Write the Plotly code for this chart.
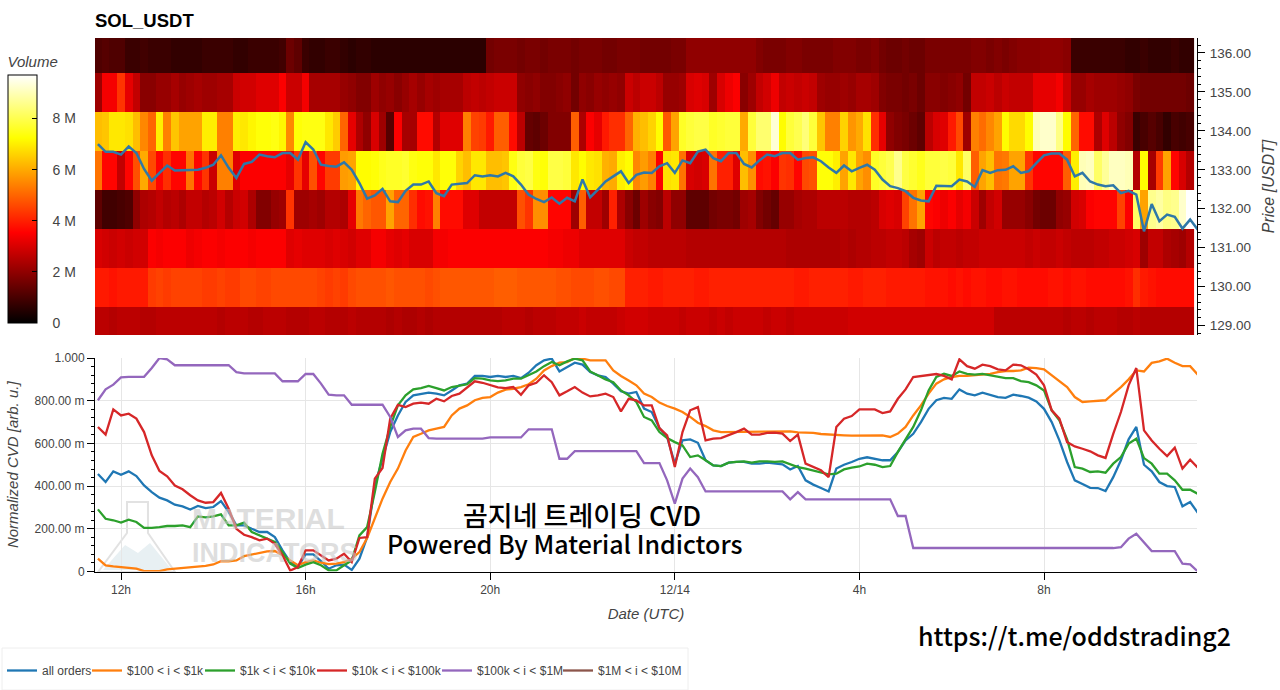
# -*- coding: utf-8 -*-
import pandas as pd
import plotly.graph_objs as go

W = 1280
H = 690

# ten minute samples (12 values per line = 2 hours)
times = pd.date_range("2025-12-13 11:30", periods=144, freq="10min")
price_levels = [128.975, 129.975, 130.975, 131.975, 132.975, 133.975, 134.975, 135.975]

# volume per price level, in millions
vol_129 = [
    2.6,2.6,2.5,2.6,2.6,2.6,2.5,2.5,2.6,2.6,2.6,2.6,
    2.6,2.6,2.6,2.6,2.5,2.6,2.6,2.6,2.5,2.5,2.6,2.6,
    2.6,2.5,2.5,2.5,2.6,2.6,2.5,2.5,2.5,2.6,2.5,2.5,
    2.5,2.5,2.4,2.5,2.4,2.4,2.5,2.4,2.5,2.5,2.5,2.5,
    2.5,2.5,2.5,2.5,2.5,2.6,2.6,2.6,2.5,2.6,2.6,2.6,
    2.7,2.7,2.7,2.8,2.7,2.7,2.7,2.7,2.8,2.9,2.9,2.9,
    2.8,2.8,2.8,2.8,2.7,2.8,2.8,2.8,2.7,2.8,2.7,2.8,
    2.8,2.8,2.8,2.7,2.8,2.8,2.7,2.8,2.8,2.8,2.8,2.8,
    2.8,2.8,2.9,2.9,2.9,2.9,2.9,2.9,2.9,2.9,2.9,2.9,
    2.9,2.9,2.9,2.9,2.9,2.9,2.9,2.9,2.9,2.6,2.6,2.6,
    2.6,2.6,2.6,2.6,2.6,2.6,2.5,2.6,2.6,2.5,2.6,2.6,
    2.6,2.5,2.5,2.6,2.5,2.5,2.5,2.5,2.5,2.5,2.5]
vol_130 = [
    3.9,3.9,3.8,3.9,3.9,3.9,3.9,4.4,4.5,4.4,4.5,4.5,
    4.5,4.5,4.4,4.4,4.5,4.4,4.4,4.6,4.6,4.5,4.5,4.6,
    4.6,4.6,4.6,4.6,4.6,4.5,4.4,4.5,4.4,4.6,4.7,4.7,
    4.7,4.7,4.8,4.7,4.7,4.7,4.7,4.6,4.7,4.8,4.8,4.8,
    4.8,4.8,4.8,4.8,4.9,4.9,4.9,4.8,4.8,4.8,4.8,4.8,
    4.7,4.7,4.6,4.6,4.6,4.7,4.7,4.6,4.6,4.0,4.0,4.0,
    3.9,3.9,4.0,4.0,4.0,4.0,3.9,3.9,4.0,4.0,4.0,4.0,
    4.0,4.0,4.0,4.0,4.0,4.0,4.0,3.9,3.9,4.0,4.0,4.0,
    4.0,4.0,3.9,3.9,4.0,4.0,4.0,3.9,3.9,3.9,3.9,3.9,
    3.8,3.8,3.8,3.7,3.8,3.7,3.8,3.8,3.7,3.7,3.8,3.8,
    3.7,3.7,3.7,3.7,3.8,3.8,3.7,3.8,3.8,3.7,3.7,3.7,
    3.7,3.7,3.8,4.2,3.9,3.8,3.7,3.7,3.7,3.7,3.7]
vol_131 = [
    3.0,2.9,2.8,2.9,2.8,2.9,2.9,3.5,3.4,3.5,3.5,3.5,
    3.3,3.4,3.5,3.5,3.4,3.5,3.5,3.5,3.4,3.5,3.5,3.5,
    3.5,3.1,3.2,3.1,3.1,3.1,3.0,3.1,3.0,2.9,3.1,3.1,
    3.4,3.4,3.2,3.1,3.2,3.0,3.0,3.0,3.4,3.4,3.5,3.5,
    3.5,3.5,3.5,3.5,3.5,3.5,3.5,3.5,3.5,3.5,3.5,3.4,
    3.4,3.3,3.3,3.1,3.1,3.1,3.1,3.1,3.1,2.8,2.7,2.7,
    2.6,2.6,2.6,2.6,2.6,2.5,2.5,2.5,2.5,2.5,2.5,2.5,
    2.5,2.5,2.5,2.5,2.5,2.5,2.4,2.4,2.4,2.4,2.4,2.4,
    2.4,2.5,2.4,2.5,2.5,2.6,2.6,2.7,2.7,2.6,2.3,2.2,
    2.8,2.6,2.7,2.7,2.6,2.7,2.7,2.8,2.8,2.8,2.8,2.8,
    2.8,2.7,2.8,2.7,2.7,2.8,2.7,2.6,2.6,2.6,2.7,2.7,
    2.8,2.8,2.9,3.0,2.2,2.7,2.7,2.4,2.3,2.2,2.5]
vol_132 = [
    1.3,0.9,0.9,1.0,1.1,2.0,2.4,2.5,2.7,2.5,2.6,2.4,
    2.7,2.7,2.5,2.6,2.9,2.5,2.8,2.9,2.4,1.8,1.8,2.1,
    2.2,4.3,2.2,2.2,2.3,2.2,2.5,2.5,2.4,3.2,5.3,5.0,
    4.8,4.8,5.9,5.0,5.0,4.2,3.7,3.8,5.4,3.7,3.7,3.7,
    3.1,3.1,2.7,2.7,2.7,2.7,2.7,4.7,4.3,5.6,5.6,3.6,
    3.6,3.6,2.2,4.9,2.7,2.7,2.2,4.0,2.4,1.9,1.5,2.2,
    1.9,1.8,2.6,2.0,2.0,1.3,1.3,1.3,1.6,1.7,1.7,1.6,
    2.2,2.3,1.8,1.6,1.4,2.1,2.1,2.3,2.4,2.4,2.6,2.6,
    2.6,2.6,2.5,2.5,2.5,2.6,3.0,3.1,3.0,4.5,5.2,5.9,
    3.6,3.5,3.3,3.5,3.2,3.4,2.8,2.2,2.7,2.9,2.1,2.1,
    2.1,1.9,1.6,1.5,1.5,2.0,2.1,2.9,3.0,3.5,3.6,3.6,
    3.6,4.5,3.5,8.2,5.9,8.6,8.8,8.5,8.6,9.2,9.7]
vol_133 = [
    5.2,3.6,3.6,2.7,3.6,4.7,6.0,4.6,3.6,4.2,3.6,3.6,
    5.2,3.6,4.3,2.8,5.4,5.4,3.1,3.5,3.5,3.5,3.5,3.5,
    3.5,3.2,4.3,3.2,4.7,3.6,4.4,4.4,5.8,5.9,7.2,7.2,
    7.3,7.5,7.6,7.6,7.7,7.4,7.3,7.3,6.9,7.3,7.3,6.6,
    6.3,6.9,6.9,6.3,6.3,6.4,7.4,7.8,7.9,7.4,7.3,7.9,
    7.9,7.8,6.9,7.2,6.9,6.8,6.1,6.0,7.0,7.2,5.5,5.8,
    5.4,3.5,6.8,6.9,5.2,3.0,2.9,3.0,5.2,4.0,4.0,3.1,
    6.3,5.6,3.7,3.8,3.5,4.3,4.2,3.6,4.6,4.7,7.3,7.3,
    7.0,5.9,6.9,5.9,5.6,7.6,7.8,8.0,8.6,7.9,7.7,7.5,
    7.8,7.8,7.9,7.8,6.9,8.2,4.9,5.9,6.3,5.2,5.3,5.9,
    5.9,4.3,3.6,3.6,3.6,3.6,4.9,7.0,9.0,9.1,8.2,8.7,
    9.1,9.1,9.0,2.5,7.2,2.3,4.4,5.9,3.6,3.0,2.5]
vol_134 = [
    6.3,6.4,6.9,6.9,6.8,6.3,5.5,5.0,7.0,5.4,6.4,5.9,
    5.9,5.9,7.0,7.0,5.4,5.4,7.0,6.9,7.1,7.3,7.3,7.4,
    7.1,5.5,7.3,7.4,7.4,7.4,6.9,6.5,5.0,3.2,2.4,2.0,
    3.0,2.2,1.2,3.5,2.3,2.3,3.7,3.7,2.5,3.1,3.1,3.1,
    5.4,4.5,4.4,3.9,4.9,4.9,3.7,2.6,1.4,1.3,1.5,1.8,
    1.8,1.8,4.9,2.4,3.5,3.2,3.9,4.2,4.2,5.0,6.1,6.3,
    6.6,7.2,4.8,5.9,7.6,7.8,7.9,7.9,7.6,7.7,7.8,7.8,
    6.0,7.8,8.3,8.3,9.3,7.2,7.8,8.0,8.4,7.8,6.4,5.4,
    5.4,6.6,5.7,6.0,6.8,4.2,3.2,2.0,1.8,1.7,1.5,1.3,
    2.6,3.0,3.1,3.9,4.6,2.2,5.4,5.1,5.5,5.9,7.2,6.7,
    6.7,7.2,9.0,9.2,9.2,8.5,7.2,5.0,3.7,3.7,2.4,3.1,
    2.6,2.0,1.8,0.8,1.0,1.2,1.0,0.7,1.0,0.9,1.0]
vol_135 = [
    2.2,3.4,3.4,4.3,3.2,2.7,1.9,1.9,2.1,2.1,2.3,2.1,
    2.2,2.3,2.2,2.2,2.3,2.3,2.8,2.9,2.9,3.1,3.1,3.1,
    3.5,2.8,2.8,3.4,2.3,2.3,2.3,2.3,2.1,2.0,1.8,1.8,
    2.2,2.0,2.1,1.9,2.1,2.3,2.1,2.3,2.2,2.3,2.3,2.3,
    2.6,2.7,2.6,2.7,2.8,2.8,2.8,2.0,1.9,2.0,1.8,1.8,
    1.9,2.0,1.6,2.0,1.9,2.1,2.0,2.1,2.0,2.8,2.6,2.8,
    2.8,2.6,2.1,2.1,2.2,3.0,3.1,3.0,2.2,3.0,3.3,3.5,
    1.9,2.2,2.7,2.9,3.3,2.7,2.8,2.7,2.8,2.7,2.2,2.1,
    2.1,2.2,2.1,2.3,2.3,2.2,1.8,1.7,1.7,1.6,1.7,1.5,
    1.9,1.9,1.8,1.9,2.0,1.6,2.7,2.7,2.8,2.6,2.8,2.7,
    2.7,2.7,3.2,3.2,3.2,3.4,2.8,2.1,2.1,2.3,2.2,2.2,
    2.2,2.1,2.0,1.7,1.6,1.6,1.6,1.6,1.6,1.6,1.5]
vol_136 = [
    1.1,1.2,1.1,1.1,0.8,0.8,0.9,0.8,0.8,0.8,0.7,0.7,
    0.7,0.7,0.8,0.8,0.8,0.8,0.7,0.7,0.8,0.8,0.8,0.8,
    0.9,1.5,1.3,0.8,0.7,0.7,0.8,0.8,0.7,0.6,0.7,0.7,
    0.6,0.6,0.6,0.6,0.6,0.6,0.6,0.6,0.6,0.6,0.6,0.6,
    0.6,0.6,0.6,1.6,1.7,1.7,1.7,1.6,1.7,1.7,1.6,1.7,
    1.7,1.7,1.6,1.7,1.7,1.7,1.6,1.6,1.7,1.7,1.7,1.6,
    1.6,1.6,1.6,1.7,1.7,2.0,2.0,2.0,2.0,2.0,2.0,2.0,
    2.0,2.0,1.8,1.7,1.7,1.7,1.8,1.8,1.7,1.7,1.7,1.7,
    1.8,1.8,1.8,1.7,1.7,1.8,1.6,1.5,1.5,1.6,1.5,1.5,
    1.7,1.7,1.7,1.7,1.7,1.7,1.8,1.8,1.7,1.8,1.7,1.8,
    1.9,1.9,1.9,2.0,2.0,2.0,1.9,0.8,0.8,0.8,0.8,0.8,
    0.8,0.8,0.7,0.7,0.8,0.7,0.7,0.7,0.8,0.7,0.7]

price = [
    133.66,133.46,133.46,133.39,133.60,133.43,133.02,132.72,132.92,133.11,132.98,132.99,
    133.00,133.00,133.05,133.13,133.37,133.05,132.79,133.15,133.20,133.39,133.35,133.32,
    133.43,133.43,133.26,133.71,133.52,133.13,133.10,133.08,133.19,133.00,132.66,132.26,
    132.34,132.51,132.19,132.17,132.46,132.62,132.62,132.70,132.40,132.32,132.62,132.64,
    132.66,132.86,132.83,132.86,132.83,132.92,132.83,132.62,132.36,132.25,132.17,132.29,
    132.13,132.28,132.19,132.75,132.29,132.49,132.70,132.83,132.96,132.66,132.87,132.93,
    132.92,133.09,133.17,132.92,133.24,133.17,133.47,133.52,133.30,133.22,133.43,133.43,
    133.15,133.06,133.24,133.39,133.35,133.43,133.43,133.26,133.30,133.32,133.22,133.06,
    132.92,133.11,132.96,133.05,133.13,133.00,132.75,132.58,132.53,132.45,132.28,132.21,
    132.19,132.59,132.58,132.58,132.75,132.70,132.56,132.99,132.92,132.99,133.00,133.09,
    132.92,132.96,133.17,133.37,133.42,133.42,133.26,132.83,132.92,132.70,132.62,132.58,
    132.60,132.40,132.46,132.36,131.42,132.12,131.68,131.85,131.79,131.49,131.72,131.46]

cvd_all = [
    .457,.419,.469,.453,.469,.447,.403,.372,.346,.333,.313,.305,
    .290,.307,.297,.302,.330,.279,.216,.216,.200,.185,.185,.161,
    .099,.044,.021,.080,.080,.049,.013,.029,.032,.007,.060,.161,
    .403,.528,.653,.731,.794,.825,.833,.838,.833,.825,.848,.872,
    .880,.916,.916,.911,.916,.911,.916,.906,.931,.966,.989,.997,
    .937,.958,.978,.969,.934,.919,.911,.880,.844,.833,.841,.763,
    .747,.672,.630,.505,.614,.619,.603,.521,.497,.494,.510,.513,
    .513,.505,.505,.510,.505,.502,.478,.494,.427,.407,.391,.375,
    .482,.500,.513,.528,.535,.528,.521,.521,.560,.614,.645,.700,
    .762,.802,.813,.809,.853,.833,.825,.838,.828,.817,.813,.828,
    .822,.814,.797,.762,.700,.614,.513,.427,.410,.392,.391,.377,
    .442,.521,.619,.677,.500,.469,.419,.400,.396,.305,.325,.275]
cvd_100_1k = [
    .060,.029,.024,.021,.018,.013,.002,.002,.002,.010,.013,.018,
    .018,.021,.026,.033,.048,.048,.052,.072,.080,.086,.094,.096,
    .076,.052,.029,.044,.052,.041,.035,.037,.044,.060,.091,.157,
    .247,.341,.419,.482,.567,.630,.645,.661,.669,.677,.731,.763,
    .778,.802,.813,.817,.838,.852,.856,.864,.877,.903,.942,.962,
    .978,.981,1.0,.997,.989,.989,.989,.942,.916,.895,.872,.833,
    .817,.791,.775,.763,.747,.724,.697,.681,.661,.653,.653,.656,
    .653,.656,.653,.653,.653,.653,.656,.652,.652,.649,.644,.641,
    .638,.638,.636,.636,.636,.638,.638,.630,.646,.677,.731,.778,
    .833,.880,.900,.911,.916,.916,.919,.922,.926,.934,.939,.939,
    .942,.955,.953,.947,.919,.891,.864,.817,.794,.797,.798,.802,
    .833,.864,.900,.942,.937,.977,.984,.997,.978,.962,.962,.922]
cvd_1k_10k = [
    .291,.247,.240,.229,.243,.232,.204,.204,.208,.213,.213,.216,
    .208,.258,.254,.258,.268,.216,.216,.229,.185,.169,.154,.138,
    .091,.037,.016,.032,.044,.029,.005,.005,.029,.052,.169,.208,
    .372,.552,.677,.778,.825,.853,.859,.869,.859,.848,.864,.872,
    .877,.906,.903,.895,.892,.895,.903,.903,.919,.937,.962,.981,
    .966,.984,.997,.989,.937,.919,.900,.887,.848,.825,.794,.724,
    .708,.653,.625,.606,.591,.536,.544,.521,.497,.494,.510,.513,
    .516,.510,.516,.516,.513,.516,.503,.489,.482,.474,.463,.455,
    .458,.478,.486,.492,.505,.500,.489,.494,.560,.619,.677,.755,
    .848,.911,.926,.916,.937,.926,.922,.926,.919,.911,.906,.906,
    .892,.887,.872,.848,.755,.708,.619,.489,.482,.466,.469,.463,
    .505,.536,.599,.622,.531,.505,.458,.458,.427,.383,.383,.364]
cvd_10k_100k = [
    .677,.641,.759,.731,.739,.716,.653,.544,.471,.446,.403,.385,
    .357,.333,.322,.325,.368,.294,.200,.172,.161,.146,.154,.130,
    .076,.005,.021,.099,.099,.076,.052,.060,.083,.044,.157,.161,
    .435,.485,.716,.780,.770,.786,.791,.786,.809,.797,.822,.833,
    .864,.891,.884,.872,.862,.859,.864,.828,.872,.884,.919,.887,
    .825,.844,.864,.838,.820,.825,.833,.817,.750,.809,.802,.778,
    .778,.672,.638,.489,.653,.755,.770,.614,.622,.625,.638,.653,
    .669,.641,.641,.649,.650,.646,.611,.641,.505,.489,.474,.442,
    .677,.716,.728,.759,.759,.759,.742,.750,.809,.853,.911,.916,
    .922,.925,.916,.900,.994,.962,.950,.969,.962,.947,.942,.969,
    .966,.947,.922,.872,.755,.716,.606,.586,.575,.563,.544,.532,
    .645,.747,.872,.953,.661,.614,.575,.541,.580,.482,.524,.486]
cvd_100k_1m = [
    .802,.853,.875,.909,.912,.912,.912,.953,1.0,.994,.966,.966,
    .966,.966,.966,.966,.966,.966,.934,.928,.928,.928,.928,.928,
    .891,.891,.891,.925,.925,.880,.828,.825,.825,.781,.781,.781,
    .781,.781,.724,.630,.661,.669,.669,.625,.622,.622,.622,.622,
    .622,.622,.622,.628,.628,.628,.628,.628,.666,.666,.666,.666,
    .528,.528,.564,.564,.564,.564,.564,.564,.564,.564,.564,.508,
    .508,.508,.427,.318,.435,.482,.442,.375,.375,.375,.375,.375,
    .375,.375,.375,.375,.375,.375,.338,.372,.338,.338,.338,.338,
    .338,.338,.338,.338,.338,.338,.338,.338,.260,.260,.110,.110,
    .110,.110,.110,.110,.110,.110,.110,.110,.110,.110,.110,.110,
    .110,.110,.110,.110,.110,.110,.110,.110,.110,.110,.110,.110,
    .110,.114,.154,.177,.138,.096,.095,.095,.095,.037,.033,0]
# nothing drawn for this bucket in the picture, only its legend entry
cvd_1m_10m = [None] * 144

series_names = ["all orders", "$100 < i < $1k", "$1k < i < $10k", "$10k < i < $100k",
                "$100k < i < $1M", "$1M < i < $10M"]
series_values = [cvd_all, cvd_100_1k, cvd_1k_10k, cvd_10k_100k, cvd_100k_1m, cvd_1m_10m]
series_colors = ["#1f77b4", "#ff7f0e", "#2ca02c", "#d62728", "#9467bd", "#8c564b"]

time_ticks = ["2025-12-13 12:00", "2025-12-13 16:00", "2025-12-13 20:00",
              "2025-12-14 00:00", "2025-12-14 04:00", "2025-12-14 08:00"]
time_labels = ["12h", "16h", "20h", "12/14", "4h", "8h"]
cvd_ticks = [0, 0.2, 0.4, 0.6, 0.8, 1.0]
cvd_labels = ["0", "200.00 m", "400.00 m", "600.00 m", "800.00 m", "1.000"]
volume_ticks = [0, 2, 4, 6, 8]
volume_labels = ["0", "2 M", "4 M", "6 M", "8 M"]

x_range = ["2025-12-13 11:26:12", "2025-12-14 11:18:54"]
font_sans = "Liberation Sans, Arial, sans-serif"
font_kr = "Noto Sans CJK KR"
hot_scale = [[0, "#000000"], [0.365, "#ff0000"], [0.746, "#ffff00"], [1, "#ffffff"]]
# left edge of each legend entry, the entries sit closer than one legend allows
legend_left = [2, 87, 200, 312, 437, 558]


def px(x):
    return x / W


def py(y):
    return 1 - y / H


def poly(points):
    return "M " + " L ".join(f"{px(a):.4f},{py(b):.4f}" for a, b in points) + " Z"


def note(text, x, y, size, color="#000000", family=font_kr, weight=500, anchor="center"):
    return dict(text=text, xref="paper", yref="paper", x=px(x), y=py(y),
                xanchor=anchor, yanchor="middle", showarrow=False,
                font=dict(size=size, color=color, family=family, weight=weight))


heat = go.Heatmap(
    x=times[:143], y=price_levels,
    z=[vol_129, vol_130, vol_131, vol_132, vol_133, vol_134, vol_135, vol_136],
    colorscale=hot_scale, zmin=0, zmax=9.7,
    xaxis="x", yaxis="y",
    colorbar=dict(
        x=px(8), xanchor="left", y=py(323), yanchor="bottom", len=270 / H,
        thickness=29, thicknessmode="pixels", outlinecolor="#000000", outlinewidth=1,
        xpad=0, ypad=0,
        tickvals=volume_ticks, ticktext=["\u00a0\u00a0\u00a0" + t for t in volume_labels],
        ticks="inside", ticklen=5, tickcolor="#000000",
        tickfont=dict(size=14, color="#444444", family=font_sans),
        title=dict(text="<i>Volume</i>", side="top",
                   font=dict(size=15, color="#444444", family=font_sans)),
    ),
)
price_line = go.Scatter(
    x=times, y=price, mode="lines", showlegend=False, xaxis="x", yaxis="y",
    line=dict(color="#2f78a8", width=2.5),
)

traces = [heat, price_line]
for i, (name, values, color) in enumerate(zip(series_names, series_values, series_colors)):
    traces.append(go.Scatter(
        x=times, y=values, mode="lines", name=name, xaxis="x2", yaxis="y2",
        line=dict(color=color, width=2.3), legend="legend" if i == 0 else f"legend{i + 1}",
    ))

layout = go.Layout(
    width=W, height=H,
    margin=dict(l=0, r=0, t=0, b=0, autoexpand=False),
    paper_bgcolor="#ffffff", plot_bgcolor="#ffffff",
    font=dict(family=font_sans, color="#444444", size=12),
    title=dict(text="<b>SOL_USDT</b>", x=px(95), xanchor="left", y=py(21), yanchor="middle",
               font=dict(size=18.5, color="#000000", family=font_sans)),
    xaxis=dict(domain=[px(95), px(1197)], range=x_range, visible=False, anchor="y"),
    yaxis=dict(
        domain=[py(335), py(38)], range=[128.756, 136.385], side="right", anchor="x",
        dtick=1, tickformat=".2f", ticks="outside", ticklen=7, tickcolor="#000000",
        showline=True, linecolor="#000000", showgrid=False, zeroline=False,
        minor=dict(ticks="outside", ticklen=3, dtick=0.2, tickcolor="#000000", showgrid=False),
        tickfont=dict(size=13.5), ticklabelstandoff=2,
        title=dict(text="<i>Price [USDT]</i>", font=dict(size=16), standoff=12),
    ),
    xaxis2=dict(
        domain=[px(95), px(1197)], range=x_range, anchor="y2", matches="x",
        tickvals=time_ticks, ticktext=time_labels, ticks="outside", ticklen=7,
        tickcolor="#000000", showline=True, linecolor="#000000",
        showgrid=True, gridcolor="#e6e6e6", tickfont=dict(size=12),
        title=dict(text="<i>Date (UTC)</i>", font=dict(size=15), standoff=12),
    ),
    yaxis2=dict(
        domain=[py(571.5), py(358)], range=[0, 1], anchor="x2",
        tickvals=cvd_ticks, ticktext=cvd_labels, ticks="outside", ticklen=7,
        tickcolor="#000000", showline=True, linecolor="#000000",
        showgrid=True, gridcolor="#e6e6e6", zeroline=False,
        minor=dict(ticks="outside", ticklen=3, dtick=0.04, tickcolor="#000000", showgrid=False),
        tickfont=dict(size=12),
        title=dict(text="<i>Normalized CVD [arb. u.]</i>", font=dict(size=15), standoff=12),
    ),
    # legend frame and the watermark logo, behind everything
    shapes=[
        dict(type="rect", xref="paper", yref="paper", layer="below",
             x0=px(2), x1=px(688), y0=py(690), y1=py(648),
             line=dict(color="#eeeeee", width=1), fillcolor="#ffffff"),
        dict(type="path", xref="paper", yref="paper", layer="below", line=dict(width=0),
             fillcolor="#e8f0f3",
             path=poly([(103, 570), (125, 545), (138, 553), (150, 543), (172, 570)])),
        dict(type="path", xref="paper", yref="paper", layer="below",
             line=dict(color="#e2e2e2", width=2), fillcolor="rgba(0,0,0,0)",
             path=poly([(127, 502), (148, 502), (148, 533), (175, 572), (98, 572), (127, 533)])),
    ],
    annotations=[
        note("MATERIAL", 190, 518, 30, "rgba(200,200,200,0.6)", font_sans, 700, "left"),
        note("INDICATORS", 190, 553, 27, "rgba(200,200,200,0.6)", font_sans, 700, "left"),
        note("곰지네 트레이딩 CVD", 582, 514, 27),
        note("Powered By Material Indictors", 565, 543, 25),
        note("https://t.me/oddstrading2", 1074, 635, 25),
    ],
)

fig = go.Figure(data=traces, layout=layout)
for i, left in enumerate(legend_left):
    key = "legend" if i == 0 else f"legend{i + 1}"
    fig.update_layout({key: dict(x=px(left), xanchor="left", y=py(656), yanchor="top",
                                 orientation="h", bgcolor="rgba(0,0,0,0)", itemwidth=30,
                                 font=dict(size=12, color="#444444"))})
fig.write_html("out.html", config=dict(displayModeBar=False),
               post_script="document.body.style.margin='0'")
